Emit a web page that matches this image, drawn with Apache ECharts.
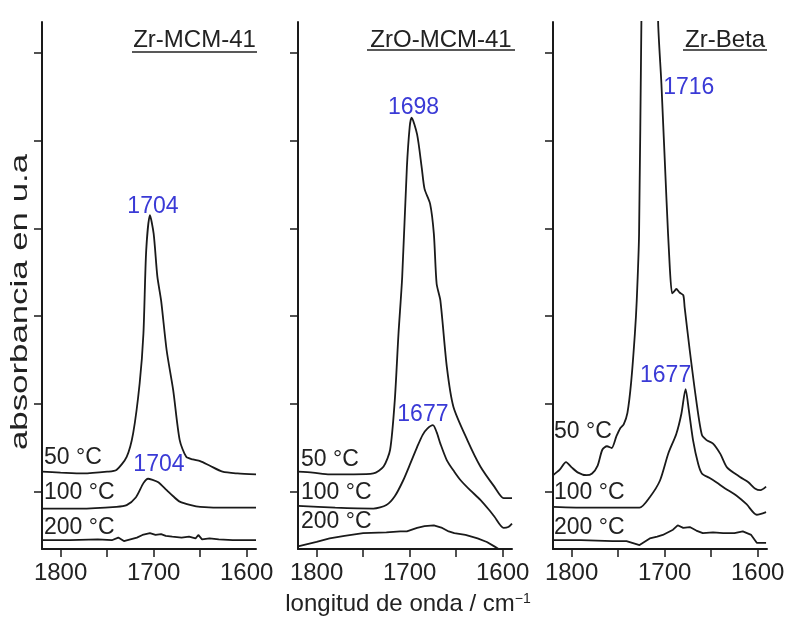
<!DOCTYPE html>
<html>
<head>
<meta charset="utf-8">
<script src="https://cdn.jsdelivr.net/npm/echarts@6/dist/echarts.min.js"></script>
<style>
  html, body { margin: 0; padding: 0; background: #fff; }
  #chart { width: 788px; height: 619px; }
</style>
</head>
<body>
<div id="chart"></div>
<script>
  // panel names and curve labels
  var panelNames = ['Zr-MCM-41', 'ZrO-MCM-41', 'Zr-Beta']
  var tempNames = ['50 °C', '100 °C', '200 °C']

  // axis ticks (wavenumber, cm-1) and absorbance tick marks (no labels)
  var xTickValues = [1600, 1650, 1700, 1750, 1800]
  var xLabelValues = [1600, 1700, 1800]
  var yTickValues = [0.65, 1.65, 2.65, 3.65, 4.65, 5.65]

  // Zr-MCM-41  [wavenumber, absorbance + offset]
  var mcm50 = [[1820, 0.88], [1800, 0.87], [1776, 0.86], [1750, 0.88], [1740, 0.90], [1729, 1.05], [1722, 1.32], [1715, 1.89], [1711, 2.45], [1708, 3.40], [1704, 3.80], [1700, 3.59], [1696, 3.10], [1692, 2.83], [1686, 2.26], [1679, 1.81], [1672, 1.24], [1665, 1.05], [1658, 1.02], [1650, 1.00], [1640, 0.95], [1626, 0.88], [1610, 0.86], [1590, 0.85]]
  var mcm100 = [[1820, 0.46], [1780, 0.46], [1740, 0.48], [1729, 0.50], [1719, 0.59], [1711, 0.75], [1706, 0.80], [1702, 0.79], [1695, 0.76], [1686, 0.67], [1679, 0.60], [1672, 0.54], [1660, 0.50], [1650, 0.48], [1620, 0.47], [1590, 0.47]]
  var mcm200 = [[1820, 0.10], [1790, 0.10], [1760, 0.11], [1745, 0.10], [1738, 0.13], [1732, 0.09], [1725, 0.11], [1718, 0.13], [1712, 0.16], [1704, 0.18], [1698, 0.16], [1692, 0.17], [1687, 0.15], [1680, 0.14], [1670, 0.13], [1662, 0.14], [1655, 0.12], [1652, 0.16], [1648, 0.11], [1640, 0.12], [1630, 0.11], [1615, 0.10], [1600, 0.10], [1590, 0.10]]

  // ZrO-MCM-41
  var zro50 = [[1820, 0.88], [1804, 0.87], [1786, 0.85], [1760, 0.85], [1739, 0.86], [1728, 0.94], [1721, 1.13], [1716, 1.69], [1712, 2.45], [1708, 3.10], [1703, 4.34], [1700, 4.80], [1698, 4.91], [1692, 4.72], [1687, 4.34], [1684, 4.10], [1678, 3.93], [1674, 3.59], [1671, 3.02], [1667, 2.83], [1660, 2.07], [1653, 1.62], [1638, 1.24], [1624, 0.94], [1609, 0.71], [1599, 0.58], [1590, 0.58]]
  var zro100 = [[1820, 0.49], [1780, 0.47], [1739, 0.46], [1725, 0.50], [1716, 0.60], [1707, 0.78], [1699, 0.98], [1692, 1.16], [1686, 1.30], [1681, 1.37], [1675, 1.41], [1671, 1.33], [1667, 1.20], [1660, 1.01], [1652, 0.88], [1645, 0.78], [1635, 0.67], [1624, 0.56], [1615, 0.45], [1609, 0.37], [1599, 0.24], [1594, 0.25], [1590, 0.29]]
  var zro200 = [[1820, 0.03], [1800, 0.08], [1786, 0.12], [1770, 0.15], [1750, 0.18], [1725, 0.19], [1710, 0.20], [1703, 0.20], [1692, 0.24], [1684, 0.26], [1674, 0.27], [1665, 0.24], [1658, 0.20], [1652, 0.18], [1640, 0.16], [1627, 0.12], [1617, 0.08], [1609, 0.03], [1600, -0.03], [1590, -0.10]]

  // Zr-Beta (50 °C peak runs off the top)
  var beta50 = [[1820, 0.84], [1813, 0.90], [1806, 0.99], [1800, 0.93], [1793, 0.87], [1784, 0.84], [1778, 0.86], [1772, 0.95], [1767, 1.13], [1762, 1.17], [1757, 1.15], [1752, 1.28], [1748, 1.37], [1744, 1.42], [1740, 1.55], [1736, 1.90], [1732, 2.45], [1730, 2.83], [1727.5, 3.59], [1725, 6.0], [1721, 9.0], [1716, 10.5], [1711, 9.0], [1707, 6.0], [1703.5, 5.3], [1698, 3.97], [1694.5, 3.21], [1692, 2.91], [1690, 2.93], [1687.5, 2.96], [1684, 2.92], [1680, 2.89], [1678.5, 2.75], [1673, 2.26], [1666, 1.69], [1660, 1.30], [1655, 1.24], [1648, 1.20], [1640, 1.08], [1633, 0.93], [1619, 0.82], [1610, 0.76], [1603, 0.69], [1597, 0.67], [1591, 0.71]]
  var beta100 = [[1820, 0.48], [1780, 0.47], [1740, 0.47], [1727, 0.47], [1716, 0.59], [1705, 0.78], [1696, 1.09], [1687.5, 1.31], [1682, 1.54], [1677.5, 1.82], [1674, 1.58], [1669.5, 1.24], [1664, 0.97], [1660, 0.86], [1652, 0.81], [1644.5, 0.76], [1635, 0.69], [1623, 0.61], [1612, 0.51], [1601, 0.39], [1591, 0.42]]
  var beta200 = [[1820, 0.10], [1790, 0.10], [1756, 0.09], [1741, 0.09], [1727, 0.045], [1716, 0.12], [1708, 0.14], [1702, 0.16], [1691, 0.22], [1686, 0.27], [1680, 0.24], [1673, 0.25], [1666, 0.21], [1659, 0.18], [1648, 0.19], [1637, 0.18], [1625, 0.18], [1616, 0.20], [1607, 0.16], [1601, 0.07], [1591, 0.07]]

  // peak annotations: [text, wavenumber, height] for 50 °C and 100 °C curves
  var mcmPeaks = [['1704', 1704, 3.80], ['1704', 1704, 0.80]]
  var zroPeaks = [['1698', 1698, 4.91], ['1677', 1675, 1.41]]
  var betaPeaks = [['1716', 1716, 5.25], ['1677', 1677.5, 1.82]]

  var curves = [[mcm50, mcm100, mcm200], [zro50, zro100, zro200], [beta50, beta100, beta200]]
  var peaks = [mcmPeaks, zroPeaks, betaPeaks]

  // layout
  var gridLeft = [42, 298, 553]
  var gridW = 214
  var gridTop = 22
  var gridH = 527
  var peakOffsets = [[[3, -9], [9, -14]], [[2, -10], [-10, -10]], [[39, 0], [-20, -13]]]
  var tempPos = [[[44, 458], [44, 493], [44, 528]], [[301, 460], [301, 493], [301, 522]], [[554, 432], [554, 493], [554, 528]]]
  var titlePos = [[132, 257, 40, 52], [367, 515, 40, 50], [683, 767, 40, 50]]

  var FONT = '"Liberation Sans", Arial, sans-serif'
  var INK = '#1a1a1a'
  var BLUE = '#3a3ad6'

  var chart = echarts.init(document.getElementById('chart'), null, { renderer: 'canvas' })

  var grids = [], xAxes = [], yAxes = [], series = [], graphics = []

  for (var p = 0; p < 3; p++) {
    grids.push({ left: gridLeft[p], width: gridW, top: gridTop, height: gridH, containLabel: false, outerBoundsMode: 'none' })
    xAxes.push({
      type: 'value', gridIndex: p, min: 1590, max: 1820, inverse: true,
      axisLine: { show: true, onZero: false, lineStyle: { color: INK, width: 2 } },
      axisTick: { show: true, customValues: xTickValues, length: 8, lineStyle: { color: INK, width: 1.5 } },
      axisLabel: {
        customValues: xLabelValues, fontSize: 24, fontFamily: FONT, color: '#222', margin: 12,
        formatter: function (v) { return String(v) }
      },
      splitLine: { show: false }
    })
    yAxes.push({
      type: 'value', gridIndex: p, min: 0, max: 6,
      axisLine: { show: true, onZero: false, lineStyle: { color: INK, width: 2 } },
      axisTick: { show: true, customValues: yTickValues, length: 8, lineStyle: { color: INK, width: 1.5 } },
      axisLabel: { show: false },
      splitLine: { show: false }
    })

    for (var c = 0; c < 3; c++) {
      var s = {
        type: 'line', name: panelNames[p] + ' ' + tempNames[c],
        xAxisIndex: p, yAxisIndex: p,
        data: curves[p][c],
        showSymbol: false, symbol: 'none',
        smooth: c === 2 ? 0 : 0.25,
        clip: true,
        lineStyle: { color: INK, width: 1.8 },
        silent: true
      }
      if (c < 2) {
        var pk = peaks[p][c]
        s.markPoint = {
          symbol: 'circle', symbolSize: 0, silent: true,
          label: {
            show: true, position: 'inside', formatter: pk[0],
            offset: peakOffsets[p][c], fontSize: 23, fontFamily: FONT, color: BLUE
          },
          data: [{ coord: [pk[1], pk[2]] }]
        }
      }
      series.push(s)

      graphics.push({
        type: 'text',
        x: tempPos[p][c][0], y: tempPos[p][c][1],
        style: { text: tempNames[c], font: '23px ' + FONT, fill: '#222', textAlign: 'left', textVerticalAlign: 'middle' }
      })
    }

    // underlined panel title
    var tp = titlePos[p]
    graphics.push({
      type: 'text', x: (tp[0] + tp[1]) / 2, y: tp[2],
      style: { text: panelNames[p], font: '24px ' + FONT, fill: '#222', textAlign: 'center', textVerticalAlign: 'middle' }
    })
    graphics.push({
      type: 'line', shape: { x1: tp[0], y1: tp[3], x2: tp[1], y2: tp[3] },
      style: { stroke: '#222', lineWidth: 1.5 }
    })
  }

  // axis names (the y title is drawn stretched along its length, as in the original)
  graphics.push({
    type: 'text', x: 20, y: 302, rotation: Math.PI / 2, scaleX: 1.45,
    style: { text: 'absorbancia en u.a', font: '24px ' + FONT, fill: '#222', textAlign: 'center', textVerticalAlign: 'middle' }
  })
  graphics.push({
    type: 'text', x: 408, y: 604,
    style: {
      text: 'longitud de onda / cm{sup|−1}', font: '24px ' + FONT, fill: '#222',
      textAlign: 'center', textVerticalAlign: 'middle',
      rich: { sup: { fontSize: 14, fontFamily: FONT, verticalAlign: 'top', fill: '#222' } }
    }
  })

  chart.setOption({
    animation: false,
    backgroundColor: '#fff',
    grid: grids,
    xAxis: xAxes,
    yAxis: yAxes,
    series: series,
    graphic: graphics
  })
</script>
</body>
</html>
